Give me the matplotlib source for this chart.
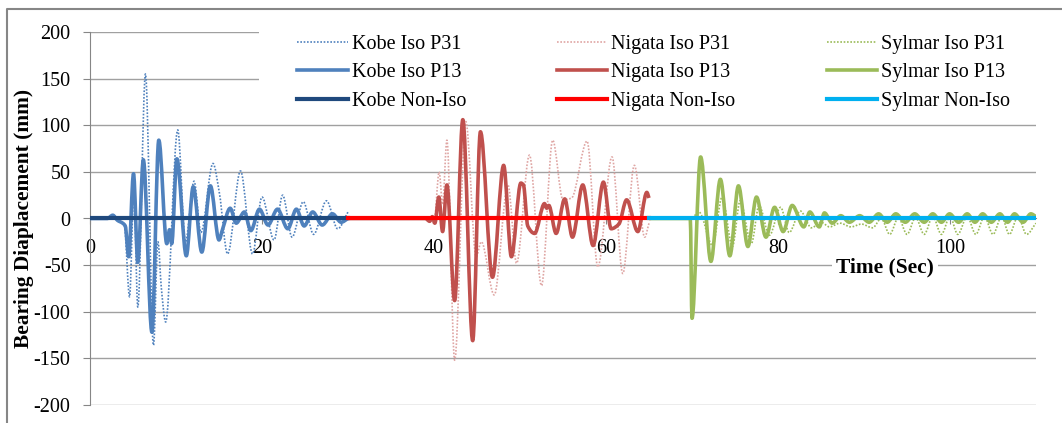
"""
Bearing displacement time histories for the Kobe, Nigata and Sylmar records,
isolated (P31 / P13) and non-isolated bearings laid end to end on one time axis.
"""
import matplotlib.pyplot as plt
from matplotlib.lines import Line2D
from matplotlib.patches import PathPatch, Rectangle
from matplotlib.path import Path

FONT = "Liberation Serif"

# Kobe record, 0 - 30 s
KOBE_T_P13 = [0, 2.0, 2.65, 3.2, 3.8, 4.1, 4.5, 5.06, 5.56, 6.2, 7.2, 8.0, 8.93,
              9.25, 9.5, 10.1, 11.2, 12.0, 13.0, 14.0, 15.0, 15.4, 16.3, 17.0,
              17.95, 18.7, 19.7, 20.7, 21.8, 23.0, 24.0, 24.9, 25.9, 27.0, 28.2,
              29.2, 30.0]
KOBE_P13 = [0, 0, 3.5, -2, -5, -8, -41, 48, -47, 63, -122, 84, -27,
            -12, -27, 64, -40, 34, -36, 35, -23, -12, 11, -5,
            7, -13, 10, -7, 10, -11, 10, -8, 7, -7, 5,
            -4, 0]
KOBE_T_P31 = [0, 2.0, 2.65, 3.3, 4.0, 4.6, 5.1, 5.56, 6.45, 7.38, 7.9, 8.3, 8.8,
              10.2, 11.1, 12.1, 12.9, 14.3, 15.05, 16.0, 17.5, 18.9, 20.0, 21.4,
              22.4, 23.5, 24.8, 26.0, 27.5, 28.8, 30.0]
KOBE_P31 = [0, 0, 4, -2, -8, -84, 30, -95, 155, -136, -25, -75, -111,
            95, -25, 40, -15, 59, 27, -38, 51, -38, 23, -23,
            25, -20, 18, -17, 19, -11, 7]
KOBE_T_NON = [0, 30]
KOBE_NON = [0, 0]

# Nigata record, 30 - 65 s
NIGATA_T_P13 = [30, 39.0, 39.5, 39.8, 40.1, 40.56, 41.0, 41.5, 42.4, 43.35, 44.5,
                45.4, 46.8, 48.1, 49.0, 50.1, 50.4, 50.9, 51.7, 52.85, 53.1,
                53.35, 54.2, 55.2, 56.1, 57.3, 58.5, 59.7, 60.6, 61.5, 62.4,
                63.7, 64.75, 65.0]
NIGATA_P13 = [0, 0, -3, 2, -5, 23, -14, 36, -88, 106, -131,
              93, -63, 57, -41, 38, 36, -8, -16, 16, 11,
              14, -16, 21, -20, 36, -29, 39, -11, -6, 20,
              -14, 28, 22]
NIGATA_T_P31 = [30, 39.5, 40.0, 40.6, 41.0, 41.5, 42.4, 43.7, 44.9, 45.5, 47.0,
                48.6, 49.6, 51.1, 52.5, 53.8, 55.0, 56.0, 57.8, 59.05, 60.7,
                61.95, 63.3, 64.5, 65.0]
NIGATA_P31 = [0, 0, -5, 50, 15, 84, -152, 104, -41, -25, -82,
              36, -48, 68, -72, 84, 20, 22, 83, -52, 66,
              -59, 57, -20, -5]
NIGATA_T_NON = [30, 65]
NIGATA_NON = [0, 0]

# Sylmar record, 65 - 110 s
SYLMAR_T_P13 = [65, 69.8, 70.0, 71.0, 72.2, 73.3, 74.4, 75.4, 76.5, 77.5, 78.6,
                79.6, 80.6, 81.65, 83.0, 83.7, 84.8, 85.4, 86.3, 87.3, 88.3,
                89.5, 90.6, 91.7, 92.7, 93.7, 94.8, 95.9, 97.0, 98.0, 99.0,
                99.95, 101.0, 102.0, 102.9, 103.8, 104.8, 105.8, 106.7, 107.5,
                108.5, 109.4, 110]
SYLMAR_P13 = [0, 0, -107, 66, -46, 42, -40, 35, -30, 23, -20,
              12, -14, 14, -9, 7, -9, 6, -5, 3, -4,
              3, -4, 5, -4, 5, -4, 5, -4, 5, -4,
              5, -4, 5, -4, 5, -4, 5, -4, 5,
              -4, 5, 2]
SYLMAR_T_P31 = [65, 69.9, 70.8, 72.4, 73.5, 74.7, 75.6, 76.9, 77.8, 79.0, 80.3,
                81.3, 82.6, 83.9, 85.0, 86.0, 87.2, 88.5, 89.7, 91.0, 92.0,
                93.0, 94.0, 95.0, 96.0, 97.0, 98.0, 99.0, 100.0, 100.9, 102.0,
                103.0, 104.0, 105.0, 106.0, 106.9, 107.9, 108.9, 110]
SYLMAR_P31 = [0, 0, 7, -29, 23, -30, 19, -27, 14, -18, 12,
              -15, 8, -10, -4, -9, -5, -9, -6, -10, 0,
              -17, 1, -17, 1, -17, 2, -17, 2, -17, 2,
              -17, 2, -17, 2, -17, 2, -17, -5]
SYLMAR_T_NON = [65, 110]
SYLMAR_NON = [0, 0]

X_TICKS = [0, 20, 40, 60, 80, 100]
Y_TICKS = [-200, -150, -100, -50, 0, 50, 100, 150, 200]

KOBE_ISO = "#4F81BD"
KOBE_NON_C = "#1F497D"
NIGATA_ISO = "#C0504D"
NIGATA_P31_C = "#DFA5A3"
NIGATA_NON_C = "#FF0000"
SYLMAR_ISO = "#9BBB59"
SYLMAR_NON_C = "#00B0F0"
GRID = "#A0A0A0"
AXIS = "#868686"

DOTTED = dict(lw=1.2, ls=(0, (1, 1)))
SOLID = dict(lw=2.6)
NON = dict(lw=3.0)


def tangents(t, v):
    """Shape-preserving slopes, so the smoothed line never overshoots a point."""
    n = len(t)
    h = [t[i + 1] - t[i] for i in range(n - 1)]
    s = [(v[i + 1] - v[i]) / h[i] for i in range(n - 1)]
    d = [s[0]] + [0.0] * (n - 2) + [s[-1]]
    for i in range(1, n - 1):
        if s[i - 1] * s[i] > 0:
            w1 = 2 * h[i] + h[i - 1]
            w2 = h[i] + 2 * h[i - 1]
            d[i] = (w1 + w2) / (w1 / s[i - 1] + w2 / s[i])
    return d


def smoothed(ax, t, v, color, style, zorder):
    """Draw a series as a smoothed line (cubic Bezier through every point)."""
    d = tangents(t, v)
    verts = [(t[0], v[0])]
    codes = [Path.MOVETO]
    for i in range(len(t) - 1):
        h = t[i + 1] - t[i]
        verts += [(t[i] + h / 3, v[i] + d[i] * h / 3),
                  (t[i + 1] - h / 3, v[i + 1] - d[i + 1] * h / 3),
                  (t[i + 1], v[i + 1])]
        codes += [Path.CURVE4] * 3
    patch = PathPatch(Path(verts, codes), fill=False, edgecolor=color,
                      linewidth=style["lw"], linestyle=style.get("ls", "-"),
                      joinstyle="round", capstyle="butt", zorder=zorder)
    ax.add_patch(patch)
    return Line2D([], [], color=color, **style)


def main():
    plt.rcParams["font.family"] = FONT
    plt.rcParams["axes.unicode_minus"] = False
    fig = plt.figure(figsize=(10.62, 4.23), dpi=100)
    ax = fig.add_axes([90 / 1062, 18 / 423, 946 / 1062, 373 / 423])

    # P31 (dotted), then P13, then non-isolated on top
    h_k31 = smoothed(ax, KOBE_T_P31, KOBE_P31, KOBE_ISO, DOTTED, 3)
    h_n31 = smoothed(ax, NIGATA_T_P31, NIGATA_P31, NIGATA_P31_C, DOTTED, 3)
    h_s31 = smoothed(ax, SYLMAR_T_P31, SYLMAR_P31, SYLMAR_ISO, DOTTED, 3)

    h_k13 = smoothed(ax, KOBE_T_P13, KOBE_P13, KOBE_ISO, SOLID, 4)
    h_n13 = smoothed(ax, NIGATA_T_P13, NIGATA_P13, NIGATA_ISO, SOLID, 4)
    h_s13 = smoothed(ax, SYLMAR_T_P13, SYLMAR_P13, SYLMAR_ISO, SOLID, 4)

    h_kn, = ax.plot(KOBE_T_NON, KOBE_NON, color=KOBE_NON_C, zorder=5, **NON)
    h_nn, = ax.plot(NIGATA_T_NON, NIGATA_NON, color=NIGATA_NON_C, zorder=5, **NON)
    h_sn, = ax.plot(SYLMAR_T_NON, SYLMAR_NON, color=SYLMAR_NON_C, zorder=5, **NON)

    ax.set_xlim(0, 110)
    ax.set_ylim(-200, 200)
    ax.set_xticks(X_TICKS)
    ax.set_yticks(Y_TICKS)

    ax.set_axisbelow(True)
    ax.yaxis.grid(True, color=GRID, lw=1.0)
    ax.xaxis.grid(False)

    for side in ("top", "right"):
        ax.spines[side].set_visible(False)
    ax.spines["left"].set_color(AXIS)
    ax.spines["bottom"].set_color(AXIS)
    ax.spines["bottom"].set_position(("data", 0))

    ax.tick_params(axis="y", direction="out", length=5, color=AXIS,
                   labelsize=14.5, pad=9)
    ax.tick_params(axis="x", direction="out", length=4, color=AXIS,
                   labelsize=14.5, pad=11)

    ax.set_ylabel("Bearing Diaplacement (mm)", fontsize=15.4, fontweight="bold")
    ax.yaxis.set_label_coords(-0.0595, 0.5)
    ax.text(92.4, -53, "Time (Sec)", fontsize=15.4, fontweight="bold",
            ha="center", va="center", zorder=6,
            bbox=dict(facecolor="white", edgecolor="none", pad=3))

    # white panel behind the legend hides the upper gridlines
    ax.add_patch(Rectangle((0.179, 0.786), 0.821, 0.25, transform=ax.transAxes,
                           facecolor="white", edgecolor="none", zorder=1,
                           clip_on=False))

    handles = [h_k31, h_k13, h_kn, h_n31, h_n13, h_nn, h_s31, h_s13, h_sn]
    labels = ["Kobe Iso P31", "Kobe Iso P13", "Kobe Non-Iso",
              "Nigata Iso P31", "Nigata Iso P13", "Nigata Non-Iso",
              "Sylmar Iso P31", "Sylmar Iso P13", "Sylmar Non-Iso"]
    ax.legend(handles, labels, ncol=3, loc="upper left", mode="expand",
              bbox_to_anchor=(0.219, 0.993, 0.7535, 0), frameon=False,
              fontsize=14.5, borderpad=0, borderaxespad=0,
              handlelength=2.5, handletextpad=0.2, labelspacing=0.47)

    # chart area border
    fig.add_artist(Line2D([7 / 1062, 7 / 1062, 1.0], [0.0, 1 - 9 / 423, 1 - 9 / 423],
                          transform=fig.transFigure, color=AXIS, lw=1.5))

    fig.savefig("out.png", dpi=100)


if __name__ == "__main__":
    main()
